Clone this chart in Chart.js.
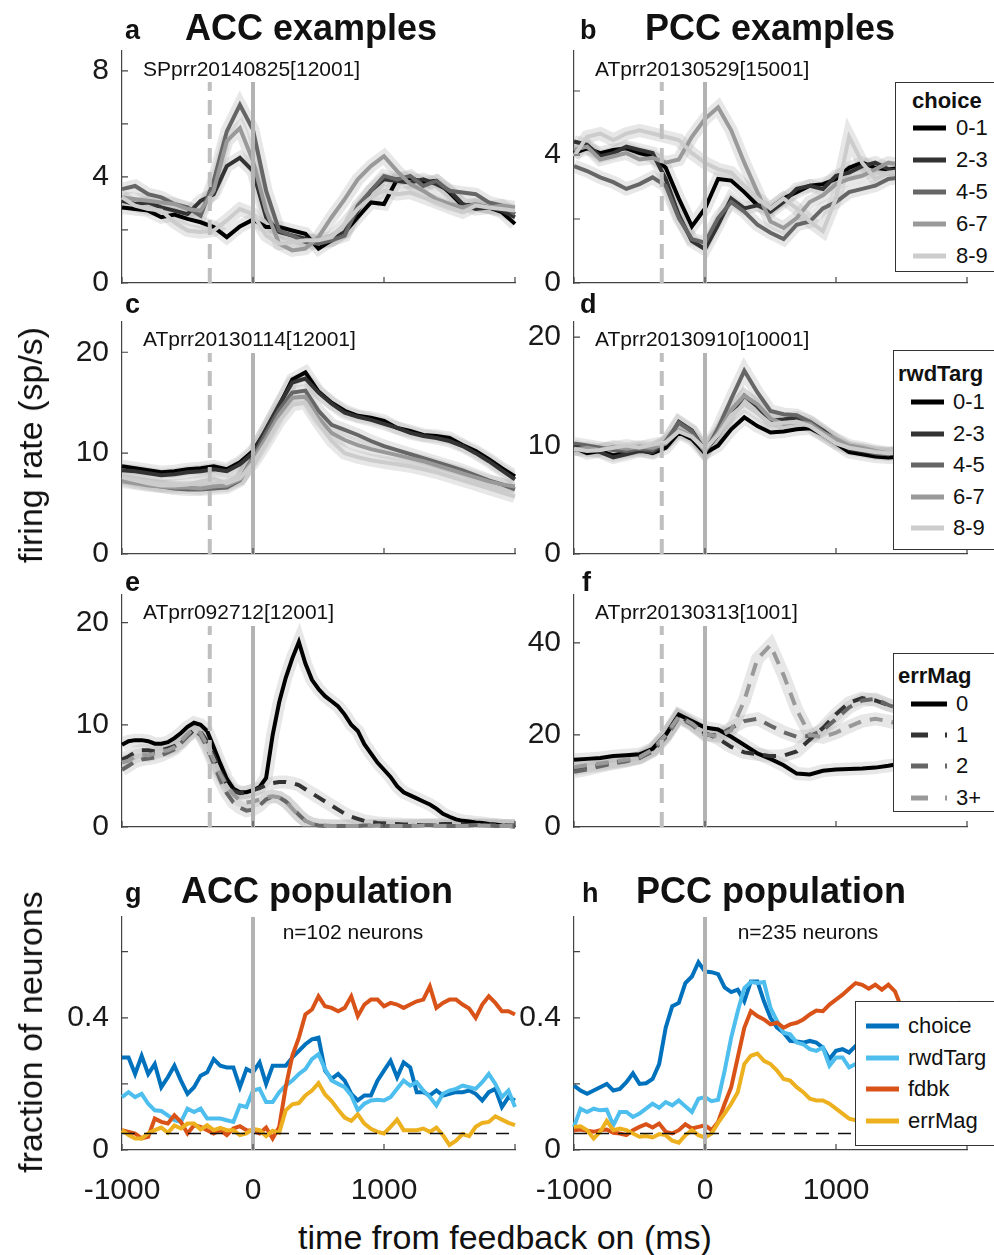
<!DOCTYPE html>
<html lang="en">
<head>
<meta charset="UTF-8" />
<title>ACC / PCC feedback responses</title>
<script src="https://cdn.jsdelivr.net/npm/chart.js"></script>
<style>
  body { margin: 0; background: #fff; font-family: 'Liberation Sans', Arial, sans-serif; color: #111; }
  #fig { position: relative; width: 994px; height: 1255px; overflow: hidden; }
  canvas { position: absolute; }
  .t { position: absolute; line-height: 1; white-space: nowrap; }
  .letter { font-weight: bold; font-size: 27px; }
  .title { font-weight: bold; font-size: 36px; transform: translateX(-50%); }
  .sub { font-size: 21px; }
  .ax { font-size: 34px; }
  .rot { transform: translate(-50%, -50%) rotate(-90deg); }
  .legend { position: absolute; background: #fff; border: 1px solid #333; font-size: 22px; }
  .legend div { position: absolute; line-height: 22px; white-space: nowrap; }
  .legend svg { position: absolute; }
</style>
</head>
<body>
<div id="fig">
  <div class="t letter" style="left:125px; top:17px;">a</div>
  <div class="t title" style="left:311px; top:10px;">ACC examples</div>
  <div class="t letter" style="left:580px; top:17px;">b</div>
  <div class="t title" style="left:770px; top:10px;">PCC examples</div>
  <div class="t letter" style="left:125px; top:291px;">c</div>
  <div class="t letter" style="left:580px; top:291px;">d</div>
  <div class="t letter" style="left:125px; top:569px;">e</div>
  <div class="t letter" style="left:582px; top:569px;">f</div>
  <div class="t letter" style="left:125px; top:880px;">g</div>
  <div class="t title" style="left:317px; top:873px;">ACC population</div>
  <div class="t letter" style="left:582px; top:880px;">h</div>
  <div class="t title" style="left:771px; top:873px;">PCC population</div>

  <div class="t sub" style="left:143px; top:58px;">SPprr20140825[12001]</div>
  <div class="t sub" style="left:595px; top:58px;">ATprr20130529[15001]</div>
  <div class="t sub" style="left:143px; top:328px;">ATprr20130114[12001]</div>
  <div class="t sub" style="left:595px; top:328px;">ATprr20130910[10001]</div>
  <div class="t sub" style="left:143px; top:601px;">ATprr092712[12001]</div>
  <div class="t sub" style="left:595px; top:601px;">ATprr20130313[1001]</div>
  <div class="t sub" style="left:353px; top:921px; transform:translateX(-50%);">n=102 neurons</div>
  <div class="t sub" style="left:808px; top:921px; transform:translateX(-50%);">n=235 neurons</div>

  <div class="t ax rot" style="left:30px; top:445px;">firing rate (sp/s)</div>
  <div class="t ax rot" style="left:30px; top:1032px;">fraction of neurons</div>
  <div class="t ax" style="left:505px; top:1220px; transform:translateX(-50%);">time from feedback on (ms)</div>
</div>

<script>
// time bins (ms from feedback on)
const time100 = [-1000,-900,-800,-700,-600,-500,-400,-300,-200,-100,0,100,200,300,400,500,600,700,800,900,1000,1100,1200,1300,1400,1500,1600,1700,1800,1900,2000];
const time50 = [-1000,-950,-900,-850,-800,-750,-700,-650,-600,-550,-500,-450,-400,-350,-300,-250,-200,-150,-100,-50,0,50,100,150,200,250,300,350,400,450,500,550,600,650,700,750,800,850,900,950,1000,1050,1100,1150,1200,1250,1300,1350,1400,1450,1500,1550,1600,1650,1700,1750,1800,1850,1900,1950,2000];

const xTicks = [-1000, 0, 1000, 2000];
const xTickLabels = [-1000, 0, 1000];
const feedbackOn = 0;
const cueTime = -330;
const chanceLevel = 0.05;

const binLabels = ['0-1', '2-3', '4-5', '6-7', '8-9'];
const errLabels = ['0', '1', '2', '3+'];
const popLabels = ['choice', 'rwdTarg', 'fdbk', 'errMag'];

// a: ACC example, split by choice
const a01 = [2.85,2.79,2.73,2.48,2.58,2.42,2.29,2.11,1.73,2.13,2.39,2.11,2.11,1.98,1.86,1.30,1.61,1.92,2.48,3.04,2.98,3.91,3.97,3.79,3.85,3.41,2.92,2.95,2.85,2.67,2.23];
const a23 = [3.10,2.98,3.04,2.85,2.73,2.60,3.10,3.35,4.41,4.72,4.22,2.48,1.92,1.79,1.67,1.54,1.61,1.92,2.73,3.48,3.91,3.85,3.79,3.91,3.73,3.48,2.98,2.79,2.85,2.73,2.48];
const a45 = [3.54,3.66,3.35,3.23,2.98,2.85,2.54,3.85,5.72,6.72,5.78,3.48,1.98,1.79,1.54,1.48,1.61,1.79,2.92,3.48,4.04,3.91,4.04,3.66,3.85,3.48,3.41,3.35,3.04,2.92,2.60];
const a67 = [3.23,3.16,3.10,3.04,2.98,2.79,2.73,3.48,5.35,5.84,4.60,2.73,1.48,1.23,1.30,1.73,2.48,3.16,3.91,4.41,4.78,4.22,3.73,3.48,3.16,2.98,2.85,2.98,2.85,2.92,2.85];
const a89 = [3.23,2.92,2.79,2.73,2.29,1.98,1.92,1.98,2.36,2.79,2.60,1.79,1.48,1.54,1.61,1.61,1.73,2.23,2.79,3.23,3.48,3.35,3.41,3.23,3.04,2.85,2.67,2.92,2.85,2.79,2.73];

// b: PCC example, split by choice
const b01 = [4.06,4.21,4.06,4.16,4.21,4.06,3.96,3.60,2.64,1.77,2.33,3.25,3.20,2.84,2.43,2.33,2.64,2.84,3.04,3.09,3.25,3.60,3.76,3.60,3.55,3.6,3.5,3.6,3.5,3.6,3.5];
const b23 = [4.42,4.32,3.96,4.06,4.26,4.16,4.06,3.25,2.13,1.31,1.06,1.82,2.64,2.33,2.43,2.23,2.53,2.94,3.04,2.94,3.35,3.45,3.65,3.76,3.55,3.5,3.6,3.5,3.7,3.6,3.6];
const b45 = [3.65,3.50,3.30,3.15,2.94,3.09,3.30,3.04,2.03,1.37,1.26,2.03,2.53,2.23,1.82,1.57,1.37,1.82,1.92,2.33,2.53,2.84,2.94,3.04,3.25,3.3,3.4,3.3,3.5,3.4,3.4];
const b67 = [4.16,4.26,3.86,3.96,4.06,3.86,3.91,3.76,3.86,4.57,5.13,5.49,4.77,3.76,2.84,1.92,1.72,2.03,2.53,2.74,3.09,3.25,3.35,3.55,3.76,3.7,3.6,3.7,3.6,3.7,3.6];
const b89 = [3.96,4.57,4.67,4.47,4.67,4.77,4.67,4.57,4.47,4.06,3.76,3.55,3.45,3.04,2.64,2.33,2.64,2.33,1.92,1.62,2.64,4.57,3.76,3.25,3.45,3.5,3.4,3.5,3.6,3.5,3.4];

// c: ACC example, split by rewarded target
const c01 = [8.7,8.5,8.3,8.1,8.2,8.4,8.5,8.7,8.4,9.1,10.2,12.3,14.7,17.3,18.0,16.1,15.0,14.2,13.7,13.5,13.2,12.5,12.2,11.8,11.7,11.5,10.8,10.2,9.4,8.5,7.7];
const c23 = [8.3,8.2,8.0,7.8,7.9,8.1,8.2,8.4,8.2,8.9,10.0,12.4,14.8,17.0,17.4,16.0,14.9,14.0,13.6,13.3,12.9,12.5,12.0,11.7,11.5,11.2,10.7,10.0,9.2,8.3,7.4];
const c45 = [7.4,7.1,6.9,6.7,6.5,6.4,6.4,6.5,6.6,7.3,9.6,12.0,14.3,16.0,16.2,14.2,12.8,12.3,11.8,11.2,10.7,10.3,9.9,9.5,9.1,8.7,8.3,7.8,7.3,6.9,6.4];
const c67 = [7.2,7.0,6.8,6.7,6.6,6.6,6.5,6.7,6.8,7.4,9.4,11.5,13.8,15.5,15.6,13.5,12.0,11.3,10.8,10.4,10.1,9.8,9.5,9.2,8.8,8.4,8.0,7.6,7.2,6.9,6.7];
const c89 = [7.6,7.3,7.0,6.8,6.8,6.9,7.2,7.5,7.0,7.5,9.0,11.0,13.2,14.8,15.0,13.0,11.2,10.0,9.6,9.3,9.1,8.9,8.7,8.4,8.1,7.7,7.3,6.9,6.5,6.1,5.7];

// d: PCC example, split by rewarded target
const d01 = [9.8,9.3,9.5,9.1,9.4,9.6,9.3,9.8,11.2,10.6,9.3,10.0,11.5,12.6,11.8,11.2,11.3,11.5,11.6,11.0,10.2,9.4,9.2,9.0,8.9,9.0,9.1,9.0,9.2,9.1,9.0];
const d23 = [10.0,9.6,9.4,8.9,9.2,9.5,9.4,10.2,12.2,11.4,9.5,11.0,13.0,14.6,13.6,12.3,12.4,12.6,12.2,11.4,10.5,9.7,9.5,9.3,9.2,9.4,9.5,9.4,9.6,9.5,9.4];
const d45 = [10.2,10.0,9.8,9.6,9.5,9.7,9.6,10.4,12.1,11.3,9.4,11.6,14.3,16.9,14.9,13.2,12.9,12.8,12.2,11.3,10.4,9.8,9.6,9.3,9.2,9.4,9.5,9.4,9.5,9.6,9.5];
const d67 = [9.6,9.8,9.6,9.9,9.7,9.9,9.8,10.2,11.4,10.9,9.5,11.2,13.3,14.6,13.8,12.5,12.0,12.2,12.0,11.2,10.6,10.0,9.8,9.5,9.3,9.4,9.5,9.4,9.3,9.4,9.5];
const d89 = [9.7,9.5,9.6,9.8,10.0,9.8,10.1,10.3,11.3,10.8,9.7,11.0,12.8,13.8,13.0,12.0,12.1,12.2,11.8,11.0,10.2,9.8,9.6,9.4,9.3,9.4,9.3,9.4,9.5,9.4,9.3];

// e: ACC example, split by error magnitude (50 ms bins)
const e0 = [8.05,8.4,8.5,8.5,8.4,8.15,8.15,8.3,8.7,9.2,9.8,10.2,10.0,9.4,7.8,6.2,4.7,3.75,3.4,3.4,3.6,3.9,4.8,9.0,12.2,14.6,16.5,18.1,16.0,14.4,13.5,12.8,12.3,11.8,11.0,10.0,9.4,8.1,7.2,6.3,5.6,4.9,4.0,3.4,3.1,2.8,2.5,2.2,1.8,1.3,1.0,0.75,0.6,0.55,0.45,0.4,0.3,0.25,0.15,0.1,0.05];
const e1 = [6.6,6.9,7.3,7.5,7.5,7.4,7.5,7.7,7.9,8.3,8.9,9.5,9.3,8.4,7.0,5.4,4.2,3.5,3.3,3.4,3.6,3.8,4.1,4.3,4.4,4.4,4.3,4.1,3.7,3.3,2.9,2.5,2.1,1.7,1.3,1.0,0.8,0.6,0.5,0.4,0.35,0.3,0.3,0.25,0.25,0.2,0.2,0.2,0.25,0.3,0.3,0.3,0.25,0.2,0.2,0.2,0.2,0.2,0.15,0.15,0.15];
const e2 = [5.6,6.0,6.4,6.6,6.7,6.8,7.0,7.3,7.6,8.2,8.9,9.4,9.0,7.8,6.2,4.6,3.3,2.4,1.9,1.6,1.7,2.1,2.7,3.0,2.9,2.5,1.9,1.2,0.6,0.3,0.15,0.1,0.1,0.1,0.1,0.1,0.1,0.15,0.15,0.1,0.1,0.1,0.1,0.1,0.1,0.15,0.2,0.2,0.15,0.1,0.1,0.1,0.1,0.15,0.2,0.2,0.15,0.1,0.1,0.1,0.1];
const e3 = [6.3,6.5,6.9,7.1,7.0,7.2,7.4,7.5,7.8,8.4,9.1,9.6,9.2,8.0,6.6,5.2,4.0,3.2,2.6,2.4,2.5,2.7,2.9,3.0,2.9,2.5,1.8,1.1,0.6,0.3,0.2,0.15,0.1,0.1,0.1,0.1,0.1,0.1,0.1,0.15,0.15,0.1,0.1,0.1,0.1,0.1,0.15,0.15,0.1,0.1,0.1,0.1,0.1,0.1,0.15,0.15,0.1,0.1,0.1,0.1,0.1];

// f: PCC example, split by error magnitude
const f0 = [14.6,14.8,15.0,15.4,15.6,15.8,17.0,20.0,24.4,23.0,21.6,21.2,19.6,17.8,16.0,14.8,13.4,11.6,11.4,12.2,12.5,12.6,12.7,12.9,13.3,13.8,14.0,13.8,13.9,14.1,14.2];
const f1 = [12.5,13.0,13.4,14.0,14.5,15.0,16.5,19.8,24.2,22.5,20.4,19.2,17.4,16.2,15.8,15.4,15.5,16.4,19.0,21.5,24.5,27.0,28.0,27.5,26.5,26.0,26.5,27.0,27.5,27.8,27.5];
const f2 = [12.0,12.5,13.2,13.8,14.3,15.0,16.5,19.5,23.8,22.2,20.0,20.0,21.5,23.0,23.5,22.0,20.6,19.6,19.8,21.0,23.5,26.0,27.5,27.8,26.5,25.5,26.0,26.8,27.5,28.0,27.8];
const f3 = [13.0,13.4,13.8,14.2,14.6,15.2,16.8,20.0,24.0,22.5,20.2,19.6,21.0,27.5,36.5,39.5,33.0,25.5,20.0,19.5,20.5,21.8,23.0,23.5,23.0,22.2,21.5,22.0,23.0,23.5,23.2];

// g: ACC population, fraction of neurons encoding each variable
const gChoice = [0.28,0.28,0.23,0.285,0.23,0.26,0.19,0.22,0.255,0.21,0.17,0.19,0.225,0.235,0.275,0.255,0.25,0.25,0.19,0.245,0.235,0.265,0.2,0.255,0.255,0.255,0.28,0.30,0.32,0.335,0.34,0.24,0.215,0.23,0.21,0.17,0.15,0.165,0.165,0.21,0.24,0.27,0.22,0.265,0.25,0.175,0.175,0.165,0.18,0.165,0.17,0.175,0.175,0.18,0.17,0.15,0.175,0.185,0.13,0.16,0.15];
const gRwdTarg = [0.16,0.175,0.16,0.17,0.14,0.12,0.118,0.105,0.09,0.085,0.125,0.115,0.125,0.095,0.095,0.095,0.09,0.085,0.135,0.13,0.18,0.185,0.145,0.145,0.175,0.195,0.21,0.23,0.245,0.275,0.29,0.245,0.21,0.2,0.19,0.165,0.12,0.14,0.15,0.152,0.15,0.16,0.185,0.21,0.195,0.205,0.18,0.16,0.135,0.17,0.18,0.185,0.195,0.19,0.185,0.205,0.23,0.2,0.16,0.18,0.13];
const gFdbk = [0.06,0.055,0.05,0.035,0.04,0.095,0.085,0.08,0.105,0.085,0.05,0.075,0.07,0.06,0.05,0.06,0.045,0.065,0.072,0.06,0.058,0.05,0.068,0.035,0.07,0.19,0.285,0.34,0.41,0.425,0.465,0.435,0.43,0.42,0.43,0.465,0.405,0.44,0.455,0.455,0.435,0.445,0.44,0.43,0.44,0.45,0.455,0.495,0.43,0.445,0.455,0.455,0.44,0.428,0.40,0.44,0.465,0.445,0.42,0.42,0.41];
const gErrMag = [0.06,0.045,0.035,0.035,0.05,0.06,0.068,0.052,0.074,0.065,0.08,0.08,0.062,0.075,0.06,0.067,0.06,0.06,0.045,0.05,0.064,0.06,0.042,0.058,0.052,0.12,0.138,0.142,0.165,0.18,0.202,0.168,0.148,0.122,0.098,0.088,0.108,0.08,0.064,0.055,0.05,0.07,0.092,0.06,0.06,0.06,0.065,0.055,0.068,0.045,0.015,0.028,0.048,0.042,0.07,0.082,0.085,0.102,0.092,0.082,0.075];

// h: PCC population
const hChoice = [0.195,0.18,0.17,0.18,0.19,0.20,0.18,0.185,0.205,0.232,0.20,0.202,0.215,0.26,0.37,0.435,0.445,0.505,0.525,0.568,0.54,0.538,0.532,0.492,0.478,0.485,0.45,0.51,0.51,0.45,0.40,0.37,0.355,0.33,0.328,0.325,0.33,0.325,0.31,0.275,0.30,0.305,0.295,0.315,0.31,0.30,0.32,0.30,0.29,0.30,0.31,0.30,0.29,0.30,0.30,0.29,0.31,0.30,0.29,0.30,0.30];
const hRwdTarg = [0.07,0.125,0.115,0.125,0.12,0.122,0.075,0.115,0.115,0.10,0.11,0.125,0.14,0.128,0.145,0.135,0.15,0.132,0.115,0.155,0.16,0.148,0.152,0.24,0.34,0.42,0.49,0.508,0.505,0.508,0.43,0.39,0.355,0.35,0.325,0.32,0.305,0.30,0.31,0.255,0.28,0.28,0.25,0.26,0.27,0.26,0.25,0.26,0.25,0.24,0.25,0.24,0.25,0.24,0.23,0.24,0.25,0.24,0.23,0.24,0.24];
const hFdbk = [0.06,0.062,0.058,0.055,0.06,0.062,0.052,0.05,0.045,0.06,0.07,0.078,0.068,0.08,0.055,0.05,0.06,0.078,0.065,0.07,0.075,0.06,0.085,0.14,0.19,0.28,0.37,0.42,0.405,0.395,0.38,0.385,0.37,0.38,0.385,0.395,0.41,0.422,0.42,0.44,0.455,0.47,0.488,0.505,0.50,0.488,0.50,0.485,0.50,0.48,0.43,0.40,0.39,0.40,0.39,0.40,0.41,0.40,0.42,0.445,0.44];
const hErrMag = [0.07,0.072,0.06,0.035,0.055,0.088,0.06,0.065,0.06,0.05,0.04,0.042,0.038,0.048,0.045,0.028,0.022,0.045,0.06,0.045,0.038,0.05,0.082,0.11,0.14,0.175,0.26,0.285,0.292,0.27,0.26,0.24,0.215,0.21,0.19,0.175,0.155,0.15,0.15,0.14,0.125,0.11,0.095,0.09,0.09,0.085,0.09,0.08,0.085,0.08,0.075,0.08,0.085,0.08,0.075,0.08,0.08,0.075,0.08,0.085,0.08];

// y tick positions and which of them carry a label
const yTicksA = [0, 2, 4, 6, 8], yLabA = [0, 4, 8];
const yTicksB = [0, 2, 4, 6], yLabB = [0, 4];
const yTicks20 = [0, 10, 20];
const yTicksF = [0, 20, 40];
const yTicksPop = [0, 0.2, 0.4, 0.6], yLabPop = [0, 0.4];

// ---- styling ----
const FONT = "'Liberation Sans', Arial, sans-serif";
const AXIS = '#444';
const grays = ['#000000', '#333333', '#666666', '#999999', '#cccccc'];
const errGrays = ['#000000', '#333333', '#666666', '#999999'];
const errDashed = [false, true, true, true];
const popColors = ['#0072BD', '#4DBEEE', '#D95319', '#EDB120'];
const Y_W = 100, PAD_T = 12, PAD_R = 12;

Chart.defaults.font.family = FONT;

const refLines = {
  id: 'refLines',
  afterDatasetsDraw(chart, args, o) {
    const { ctx, chartArea: a, scales: { x, y } } = chart;
    ctx.save();
    const top = a.top + o.gap;
    ctx.lineWidth = 4;
    ctx.strokeStyle = '#b3b3b3';
    let px = x.getPixelForValue(feedbackOn);
    ctx.beginPath(); ctx.moveTo(px, a.bottom); ctx.lineTo(px, top); ctx.stroke();
    if (o.cue) {
      ctx.strokeStyle = '#bfbfbf';
      ctx.setLineDash([15, 9]);
      px = x.getPixelForValue(cueTime);
      ctx.beginPath(); ctx.moveTo(px, a.bottom); ctx.lineTo(px, top); ctx.stroke();
    }
    if (o.chance) {
      ctx.strokeStyle = '#111';
      ctx.lineWidth = 1.3;
      ctx.setLineDash([13, 9]);
      const py = y.getPixelForValue(chanceLevel);
      ctx.beginPath(); ctx.moveTo(a.left, py); ctx.lineTo(a.right, py); ctx.stroke();
    }
    ctx.restore();
  },
  afterDraw(chart) {
    // MATLAB style inward tick marks
    const { ctx, chartArea: a, scales: { x, y } } = chart;
    ctx.save();
    ctx.strokeStyle = AXIS;
    ctx.lineWidth = 1.2;
    ctx.beginPath();
    x.ticks.forEach(t => { const p = x.getPixelForValue(t.value); ctx.moveTo(p, a.bottom); ctx.lineTo(p, a.bottom - 6); });
    y.ticks.forEach(t => { const p = y.getPixelForValue(t.value); ctx.moveTo(a.left, p); ctx.lineTo(a.left + 6, p); });
    ctx.stroke();
    ctx.restore();
  }
};

const panels = [
  { left: 122, top: 51, h: 232, time: time100, ymax: 8.75, yTicks: yTicksA, yLab: yLabA, series: [a01, a23, a45, a67, a89], colors: grays, bands: true, cue: true },
  { left: 574, top: 51, h: 232, time: time100, ymax: 7.25, yTicks: yTicksB, yLab: yLabB, series: [b01, b23, b45, b67, b89], colors: grays, bands: true, cue: true },
  { left: 122, top: 322, h: 232, time: time100, ymax: 23, yTicks: yTicks20, yLab: yTicks20, series: [c01, c23, c45, c67, c89], colors: grays, bands: true, cue: true },
  { left: 574, top: 322, h: 232, time: time100, ymax: 21.4, yTicks: yTicks20, yLab: yTicks20, series: [d01, d23, d45, d67, d89], colors: grays, bands: true, cue: true },
  { left: 122, top: 595, h: 232, time: time50, ymax: 22.7, yTicks: yTicks20, yLab: yTicks20, series: [e0, e1, e2, e3], colors: errGrays, dashed: errDashed, bands: true, cue: true },
  { left: 574, top: 595, h: 232, time: time100, ymax: 50.4, yTicks: yTicksF, yLab: yTicksF, series: [f0, f1, f2, f3], colors: errGrays, dashed: errDashed, bands: true, cue: true },
  { left: 122, top: 917, h: 233, time: time50, ymax: 0.705, yTicks: yTicksPop, yLab: yLabPop, series: [gChoice, gRwdTarg, gFdbk, gErrMag], colors: popColors, chance: true, xLabels: true },
  { left: 574, top: 917, h: 233, time: time50, ymax: 0.705, yTicks: yTicksPop, yLab: yLabPop, series: [hChoice, hRwdTarg, hFdbk, hErrMag], colors: popColors, chance: true, xLabels: true }
];

const fig = document.getElementById('fig');
const isIn = (list, v) => list.some(l => Math.abs(l - v) < 1e-9);

panels.forEach(p => {
  const xh = p.xLabels ? 62 : 8;
  const cv = document.createElement('canvas');
  cv.width = Y_W + 393 + PAD_R;
  cv.height = PAD_T + p.h + xh;
  cv.style.left = (p.left - Y_W) + 'px';
  cv.style.top = (p.top - PAD_T) + 'px';
  fig.insertBefore(cv, fig.firstChild);

  const datasets = [];
  p.series.forEach((vals, k) => {
    const pts = vals.map((v, i) => ({ x: p.time[i], y: v }));
    if (p.bands) {
      datasets.push({ data: pts, borderColor: 'rgba(175,175,175,0.3)', borderWidth: 13, order: 50 });
    }
    datasets.push({
      data: pts, borderColor: p.colors[k], borderWidth: 4,
      borderDash: p.dashed && p.dashed[k] ? [13, 9] : [],
      order: 10 - k, clip: 6
    });
  });

  new Chart(cv, {
    type: 'line',
    data: { datasets },
    plugins: [refLines],
    options: {
      responsive: false, animation: false, devicePixelRatio: 1,
      layout: { padding: { top: PAD_T, right: PAD_R, left: 0, bottom: 0 } },
      elements: { line: { tension: 0, borderCapStyle: 'butt' }, point: { radius: 0 } },
      plugins: {
        legend: { display: false }, tooltip: { enabled: false },
        refLines: { gap: p.chance ? 0 : 31, cue: !!p.cue, chance: !!p.chance }
      },
      scales: {
        x: {
          type: 'linear', min: -1000, max: 2000,
          afterBuildTicks: s => { s.ticks = xTicks.map(v => ({ value: v })); },
          afterFit: s => { s.height = xh; s.paddingLeft = 0; s.paddingRight = 0; },
          grid: { display: false, drawTicks: false },
          border: { display: true, color: AXIS, width: 1.2 },
          ticks: {
            display: !!p.xLabels, padding: 23, color: '#1a1a1a', maxRotation: 0,
            font: { size: 30 },
            callback: v => isIn(xTickLabels, v) ? String(v) : ''
          }
        },
        y: {
          min: 0, max: p.ymax,
          afterBuildTicks: s => { s.ticks = p.yTicks.map(v => ({ value: v })); },
          afterFit: s => { s.width = Y_W; s.paddingTop = 0; s.paddingBottom = 0; },
          grid: { display: false, drawTicks: false },
          border: { display: true, color: AXIS, width: 1.2 },
          ticks: {
            padding: 13, color: '#1a1a1a', font: { size: 30 },
            callback: v => isIn(p.yLab, v) ? String(v) : ''
          }
        }
      }
    }
  });
});

// ---- legends (HTML boxes drawn over the plots) ----
function legend(cfg) {
  const box = document.createElement('div');
  box.className = 'legend';
  box.style.left = cfg.left + 'px';
  box.style.top = cfg.top + 'px';
  box.style.width = cfg.width + 'px';
  box.style.height = cfg.height + 'px';
  if (cfg.title) {
    const t = document.createElement('div');
    t.textContent = cfg.title;
    t.style.fontWeight = 'bold';
    t.style.left = cfg.titleX + 'px';
    t.style.top = (cfg.titleY - 11) + 'px';
    box.appendChild(t);
  }
  cfg.labels.forEach((lab, k) => {
    const y = cfg.rows[k];
    const len = cfg.sample[1] - cfg.sample[0];
    const svg = document.createElementNS('http://www.w3.org/2000/svg', 'svg');
    svg.setAttribute('width', len);
    svg.setAttribute('height', 8);
    svg.style.left = cfg.sample[0] + 'px';
    svg.style.top = (y - 4) + 'px';
    const ln = document.createElementNS('http://www.w3.org/2000/svg', 'line');
    ln.setAttribute('x1', 0); ln.setAttribute('x2', len);
    ln.setAttribute('y1', 4); ln.setAttribute('y2', 4);
    ln.setAttribute('stroke', cfg.colors[k]);
    ln.setAttribute('stroke-width', 5);
    if (cfg.dashed && cfg.dashed[k]) ln.setAttribute('stroke-dasharray', '17 17');
    svg.appendChild(ln);
    box.appendChild(svg);
    const t = document.createElement('div');
    t.textContent = lab;
    t.style.left = cfg.textX + 'px';
    t.style.top = (y - 11) + 'px';
    box.appendChild(t);
  });
  fig.appendChild(box);
}

legend({ left: 895, top: 82, width: 110, height: 188, title: 'choice', titleX: 16, titleY: 18,
  labels: binLabels, colors: grays, rows: [45, 77, 109, 141, 173], sample: [17, 50], textX: 60 });
legend({ left: 893, top: 350, width: 112, height: 198, title: 'rwdTarg', titleX: 4, titleY: 23,
  labels: binLabels, colors: grays, rows: [51, 83, 114, 146, 177], sample: [17, 50], textX: 59 });
legend({ left: 893, top: 653, width: 112, height: 157, title: 'errMag', titleX: 4, titleY: 22,
  labels: errLabels, colors: errGrays, dashed: errDashed, rows: [50, 81, 112, 144], sample: [17, 53], textX: 62 });
legend({ left: 855, top: 1001, width: 150, height: 143,
  labels: popLabels, colors: popColors, rows: [24, 56, 87, 119], sample: [10, 43], textX: 52 });
</script>
</body>
</html>
